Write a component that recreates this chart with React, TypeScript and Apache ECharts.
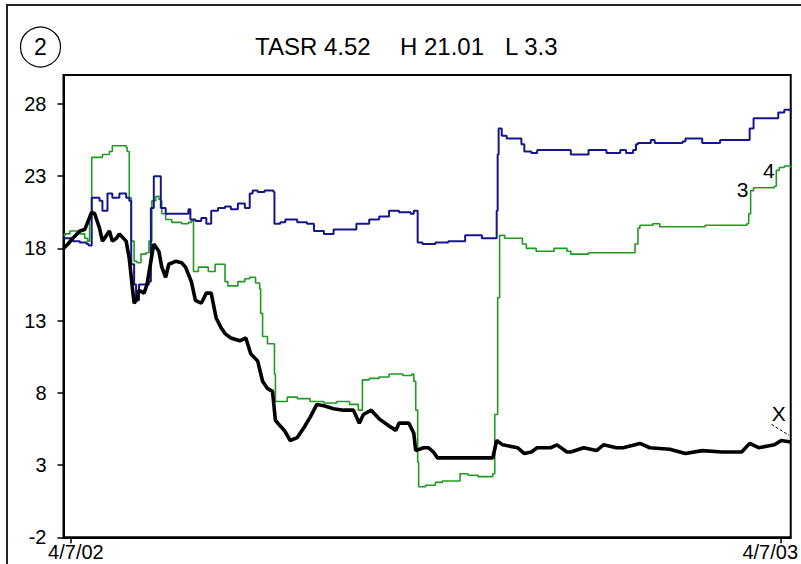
import React, { useEffect, useRef } from "react";
import * as echarts from "echarts";

// ---- data (x = days since 4/7/02, y = price) ----
const titleParts = ["TASR 4.52", "H 21.01", "L 3.3"];
const panelNumber = "2";
const yTickValues = [-2, 3, 8, 13, 18, 23, 28];
const xTickDays = [0, 365];
const xTickLabels = ["4/7/02", "4/7/03"];

const blackSeries: [number, number][] = [
  [-3.8, 18.0], [-1.5, 18.3], [1, 18.7], [4.6, 19.2], [7.1, 19.3], [8.6, 19.8], [10.7, 20.5], [12.2, 20.4],
  [14.7, 19.4], [16.2, 18.5], [18.3, 18.9], [19.8, 19.2], [21.3, 18.5], [23.4, 18.7], [24.9, 19.0], [28.4, 18.5],
  [30, 17.3], [31.5, 15.4], [32.5, 14.2], [34, 14.5], [35, 15.1], [37.6, 14.9], [39.1, 15.5], [41.1, 17.1],
  [42.6, 18.3], [45.2, 17.8], [46.7, 16.7], [48.7, 16.0], [50.3, 16.9], [53.8, 17.1], [56.9, 17.0], [58.9, 16.7],
  [61.9, 15.7], [64, 14.4], [67, 14.2], [69.6, 14.9], [72.1, 14.9], [74.6, 13.2], [77.2, 12.5], [79.2, 12.1],
  [82.2, 11.8], [86.8, 11.6], [89.9, 11.8], [92.4, 10.7], [96, 10.2], [98.5, 8.8], [101, 8.3], [103.6, 8.1],
  [105.1, 6.1], [107.6, 5.7], [109.7, 5.4], [112.7, 4.7], [116.3, 4.9], [119.8, 5.6], [122.9, 6.3], [126.4, 7.2],
  [130, 7.1], [135, 6.9], [140.1, 6.8], [145.2, 6.8], [148.2, 5.9], [150.3, 6.5], [154.3, 6.8], [158.4, 6.2],
  [163.5, 5.7], [167, 5.4], [168.6, 5.9], [173.7, 5.9], [176.2, 5.2], [177.2, 4.0], [181.2, 4.2], [183.8, 4.2],
  [186.3, 3.9], [188.4, 3.5], [193.9, 3.5], [197.5, 3.5], [204.1, 3.5], [212.7, 3.5], [216.8, 3.5], [218.8, 4.7],
  [221.9, 4.4], [229.5, 4.2], [233, 3.8], [236.6, 3.9], [239.6, 4.2], [246.7, 4.2], [249.8, 4.4], [254.9, 3.9],
  [256.9, 3.9], [263.5, 4.2], [270.1, 4.0], [273.7, 4.4], [280.3, 4.2], [283.8, 4.2], [292.4, 4.5], [297.5, 4.2],
  [307.7, 4.1], [315.8, 3.8], [324.4, 4.0], [334.5, 3.9], [344.7, 3.9], [348.8, 4.5], [353.4, 4.2], [361.5, 4.4],
  [365, 4.7], [369.9, 4.6],
];

const blueSeries: [number, number][] = [
  [-3.8, 18.7], [-2, 18.7], [1, 18.5], [4.6, 18.4], [8.1, 18.3], [9.1, 18.2], [10.2, 18.2], [10.7, 21.5],
  [14.7, 21.3], [16.2, 20.6], [18.8, 21.8], [21.3, 21.5], [24.9, 21.8], [28.4, 21.5], [30, 21.3], [31, 16.9],
  [32.5, 15.5], [33.5, 14.4], [35, 15.5], [37.6, 15.5], [40.1, 15.7], [41.1, 20.8], [42.6, 23.0], [45.2, 23.0],
  [46.2, 20.8], [48.7, 20.4], [55.3, 20.4], [58.9, 20.4], [60.4, 20.7], [61.4, 20.0], [64, 19.9], [67, 20.1],
  [69.6, 19.7], [72.1, 20.6], [75.6, 20.8], [79.2, 20.9], [82.2, 20.7], [85.8, 21.1], [89.4, 20.8], [91.9, 21.8],
  [93.4, 22.0], [96, 21.9], [99.5, 22.0], [104.1, 21.9], [104.6, 19.7], [107.6, 19.8], [110.2, 20.0], [116.3, 19.8],
  [121.3, 19.7], [124.9, 19.2], [130, 19.0], [135, 19.3], [140.1, 19.3], [146.7, 19.7], [153.3, 20.0], [158.4, 20.2],
  [163.5, 20.6], [168.6, 20.5], [174.6, 20.4], [176.2, 20.6], [177.2, 20.6], [178.2, 18.4], [180.7, 18.3], [187.3, 18.4],
  [193.9, 18.5], [202.6, 18.9], [211.2, 18.7], [217.3, 18.7], [218.3, 18.7], [218.8, 20.6], [219.3, 24.5], [219.8, 26.3],
  [221.4, 25.8], [223.9, 25.6], [229.5, 25.6], [231.5, 25.2], [233, 24.7], [236.6, 24.6], [239.6, 24.8], [254.9, 24.8],
  [256.9, 24.5], [262, 24.5], [266, 24.8], [273.7, 24.8], [275.2, 24.6], [282.3, 24.8], [285.3, 24.6], [288.9, 24.8],
  [290.4, 25.2], [291.4, 25.3], [298, 25.5], [300, 25.3], [314.3, 25.4], [315.8, 25.6], [322.9, 25.6], [324.4, 25.3],
  [333.6, 25.5], [347.3, 25.5], [348.8, 26.3], [350.8, 27.0], [354.9, 27.0], [362.5, 27.0], [363.5, 27.4], [366.6, 27.6],
  [369.9, 27.4],
];

const greenSeries: [number, number][] = [
  [-3.8, 18.9], [-3, 19.0], [-0.5, 19.2], [4.6, 19.0], [7.1, 18.7], [8.6, 18.5], [9.6, 20.4], [10.7, 24.3],
  [16.2, 24.5], [19.8, 24.7], [21.3, 25.1], [28.4, 25.0], [28.9, 24.7], [30, 21.5], [31, 18.5], [32.5, 17.1],
  [34, 17.0], [36, 17.6], [38.6, 17.7], [40.1, 18.5], [41.6, 21.3], [43.7, 21.6], [45.2, 21.4], [46.2, 21.3],
  [46.7, 20.4], [48.7, 20.0], [51.8, 19.8], [56.9, 19.7], [60.4, 19.8], [61.9, 19.9], [63, 16.4], [65.5, 16.7],
  [70.6, 16.4], [74.1, 16.9], [77.2, 16.9], [79.2, 15.7], [80.7, 15.4], [85.8, 15.7], [89.4, 15.9], [91.9, 16.0],
  [94.9, 15.6], [97, 15.2], [97.5, 13.5], [98.5, 11.9], [101, 11.4], [104.1, 11.4], [104.6, 9.3], [105.1, 7.4],
  [111.2, 7.7], [116.3, 7.6], [122.9, 7.4], [130, 7.3], [136.6, 7.4], [143.2, 7.2], [147.7, 6.8], [148.8, 6.8],
  [149.8, 8.9], [153.3, 9.0], [158.4, 9.1], [163.5, 9.3], [170.6, 9.2], [175.2, 9.3], [176.2, 8.8], [177.2, 6.8],
  [178.2, 3.2], [178.7, 1.5], [182.3, 1.6], [187.3, 1.8], [190.9, 1.9], [198.5, 1.9], [200, 2.4], [204.1, 2.3],
  [209.2, 2.2], [212.7, 2.2], [216.8, 2.4], [217.8, 6.5], [219.3, 14.6], [220.3, 18.9], [222.9, 18.7], [224.4, 18.7],
  [230.5, 18.7], [232, 18.3], [234, 18.0], [239.1, 17.8], [246.7, 17.8], [248.3, 18.0], [254.9, 17.8], [256.9, 17.6],
  [262, 17.6], [266, 17.7], [288.9, 17.7], [289.9, 18.3], [291.4, 19.4], [292.4, 19.6], [299, 19.7], [302.6, 19.5],
  [314.3, 19.5], [325.9, 19.6], [347.3, 19.7], [348.3, 20.4], [349.3, 22.0], [350.8, 22.2], [361.5, 22.3], [362.5, 23.4],
  [364, 23.6], [366.6, 23.7], [369.9, 23.6],
];

const greenNotes = [
  { name: "3", coord: [345.2, 22.06] },
  { name: "4", coord: [358.6, 23.4] },
];
const blackNote = { name: "X", coord: [363.7, 6.55] };
const blackLeader = [[360, 5.82], [369.1, 5.05]];

const FONT = '"Liberation Sans", Arial, sans-serif';

export default function App() {
  const ref = useRef<HTMLDivElement>(null);
  useEffect(() => {
    if (!ref.current) return;
    const chart = echarts.init(ref.current, undefined, { renderer: "svg" });
    const noteLabel = {
      show: true,
      position: "inside",
      formatter: "{b}",
      color: "#000",
      fontSize: 21,
      fontFamily: FONT,
    };
    chart.setOption({
      animation: false,
      backgroundColor: "#fff",
      textStyle: { fontFamily: FONT },
      grid: {
        left: 63.5,
        right: 1.5,
        top: 75,
        bottom: 26.7,
        show: true,
        borderColor: "#000",
        borderWidth: 2,
        backgroundColor: "transparent",
      },
      xAxis: {
        type: "value",
        min: -3.8,
        max: 369.9,
        splitLine: { show: false },
        axisLine: { show: true, onZero: false, lineStyle: { color: "#000", width: 2 } },
        axisTick: { show: true, customValues: xTickDays, length: 6, lineStyle: { color: "#000", width: 1.5 } },
        axisLabel: {
          customValues: xTickDays,
          margin: 5,
          color: "#000",
          fontSize: 20,
          fontFamily: FONT,
          formatter: (v: number) => {
            const i = xTickDays.indexOf(v);
            return i === 0 ? `{a|${xTickLabels[0]}}` : `{b|${xTickLabels[i]}}`;
          },
          rich: {
            a: { padding: [0, 0, 0, 10], fontSize: 20, color: "#000", fontFamily: FONT },
            b: { padding: [0, 22, 0, 0], fontSize: 20, color: "#000", fontFamily: FONT },
          },
        },
      },
      yAxis: {
        type: "value",
        min: -2,
        max: 30,
        splitLine: { show: false },
        axisLine: { show: true, onZero: false, lineStyle: { color: "#000", width: 2 } },
        axisTick: { show: true, customValues: yTickValues, length: 6, lineStyle: { color: "#000", width: 1.5 } },
        axisLabel: {
          customValues: yTickValues,
          margin: 17,
          color: "#000",
          fontSize: 20,
          fontFamily: FONT,
        },
      },
      series: [
        {
          type: "line",
          data: greenSeries,
          symbol: "none",
          step: "end",
          lineStyle: { color: "#229a22", width: 1.6 },
          z: 2,
          markPoint: {
            symbol: "circle",
            symbolSize: 1,
            itemStyle: { color: "transparent" },
            label: noteLabel,
            data: greenNotes.map((n) => ({ name: n.name, coord: n.coord })),
          },
        },
        {
          type: "line",
          data: blueSeries,
          symbol: "none",
          step: "end",
          lineStyle: { color: "#16168c", width: 2 },
          z: 3,
        },
        {
          type: "line",
          data: blackSeries,
          symbol: "none",
          lineStyle: { color: "#000", width: 3.6 },
          z: 4,
          markPoint: {
            symbol: "circle",
            symbolSize: 1,
            itemStyle: { color: "transparent" },
            label: noteLabel,
            data: [{ name: blackNote.name, coord: blackNote.coord }],
          },
          markLine: {
            silent: true,
            symbol: ["none", "none"],
            label: { show: false },
            lineStyle: { color: "#000", width: 1, type: [3, 2] },
            data: [[{ coord: blackLeader[0] }, { coord: blackLeader[1] }]],
          },
        },
      ],
      graphic: [
        {
          type: "rect",
          shape: { x: 7, y: 5, width: 820, height: 600 },
          style: { fill: "none", stroke: "#222", lineWidth: 2 },
          silent: true,
        },
        {
          type: "circle",
          shape: { cx: 40.5, cy: 47, r: 20 },
          style: { fill: "none", stroke: "#000", lineWidth: 1.2 },
        },
        {
          type: "text",
          x: 40.5,
          y: 47,
          style: { text: panelNumber, font: `23px ${FONT}`, fill: "#000", align: "center", verticalAlign: "middle" },
        },
        {
          type: "text",
          x: 255,
          y: 46,
          style: { text: titleParts[0], font: `24px ${FONT}`, fill: "#000", align: "left", verticalAlign: "middle" },
        },
        {
          type: "text",
          x: 400,
          y: 46,
          style: { text: titleParts[1], font: `24px ${FONT}`, fill: "#000", align: "left", verticalAlign: "middle" },
        },
        {
          type: "text",
          x: 505,
          y: 46,
          style: { text: titleParts[2], font: `24px ${FONT}`, fill: "#000", align: "left", verticalAlign: "middle" },
        },
      ],
    });
    return () => chart.dispose();
  }, []);
  return (
    <div
      ref={ref}
      style={{ position: "fixed", left: 0, top: 0, width: 801, height: 564, background: "#fff" }}
    />
  );
}
